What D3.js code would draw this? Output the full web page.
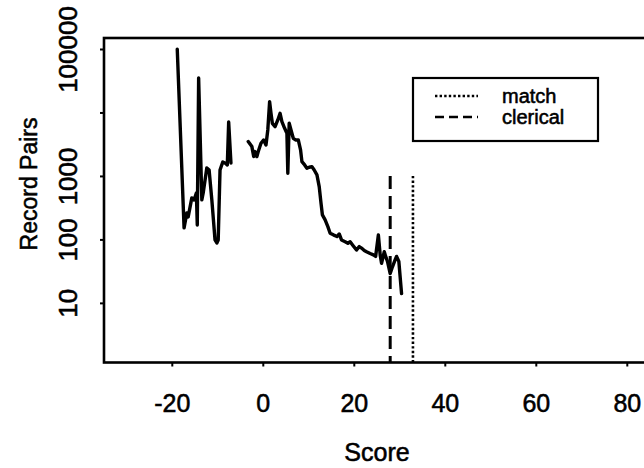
<!DOCTYPE html>
<html>
<head>
<meta charset="utf-8">
<script src="https://cdn.jsdelivr.net/npm/d3@7"></script>
<style>
  body { margin: 0; background: #fff; }
  svg { display: block; }
  text { font-family: "Liberation Sans", Arial, Helvetica, sans-serif; fill: #000; stroke: #000; stroke-width: 0.55px; }
</style>
</head>
<body>
<svg id="chart" width="644" height="468"></svg>
<script>
// Score distribution of record pairs (log counts), two runs of non-empty scores
const lowScores = [-18.8, -17.3, -16.7, -16.4, -15.6, -15.1, -14.6, -14.4, -14.1, -13.4, -13.1,
  -12.3, -11.8, -11.2, -10.5, -10.1, -9.8, -9.4, -8.8, -8.3, -7.8, -7.5, -7.0];
const lowPairs = [99000, 152, 261, 226, 451, 419, 540, 169, 34900, 419, 540,
  1340, 1240, 419, 98, 88, 98, 1240, 1660, 1600, 1490, 7080, 1600];

const mainScores = [-3.2, -2.4, -2.0, -1.7, -1.3, -1.0, -0.4, 0.2, 0.7, 1.1, 1.5, 1.8, 2.1, 2.7,
  3.3, 3.8, 4.2, 4.8, 5.3, 5.5, 5.8, 6.2, 6.7, 7.2, 7.8, 8.3, 8.6, 9.2, 9.7, 10.2, 10.8, 11.3,
  11.9, 12.4, 12.8, 13.1, 13.7, 14.3, 14.8, 15.5, 16.3, 16.8, 17.3, 18.1, 18.7, 19.2, 19.9,
  20.6, 21.2, 21.7, 22.3, 22.8, 23.6, 24.3, 24.8, 25.4, 25.8, 26.1, 26.7, 27.0, 27.4, 28.0,
  28.5, 29.1, 29.4, 29.9, 30.5];
const mainPairs = [3480, 2900, 2020, 2420, 2020, 2420, 3270, 3690, 3080, 5300, 14800, 9700, 6750, 5980,
  7620, 9700, 7180, 5630, 4700, 1100, 6750, 5300, 3920, 3690, 3690, 2570, 1680, 1490, 1320, 1370,
  1400, 1240, 1040, 680, 370, 243, 203, 159, 125, 118, 111, 122, 98, 92, 87, 92, 79,
  68, 77, 73, 67, 64, 60, 57, 54, 118, 57, 42, 64, 54, 45, 29,
  37, 48, 54, 45, 14];

// Cut-off scores
const thresholdNames = ["match", "clerical"];
const thresholdScores = [33, 28];
const thresholdSpan = [1, 1000];

const xTicks = [-20, 0, 20, 40, 60, 80];
const yTicks = [10, 100, 1000, 10000, 100000];
const yTickLabels = ["10", "100", "1000", "", "100000"];

const xTitle = "Score";
const yTitle = "Record Pairs";

// ---- layout ----
const W = 644, H = 468;
const plot = { left: 104, right: 650, top: 38, bottom: 362.5 };
const dashes = { match: "2.4,2.2", clerical: "13,7" };
const legendDashes = { match: "2.4,2.2", clerical: "9,5" };

const svg = d3.select("#chart");
svg.append("rect").attr("width", W).attr("height", H).attr("fill", "#fff").attr("stroke", "none");

const x = d3.scaleLinear().domain([-34.9, 85.1]).range([plot.left, plot.right]);
const y = d3.scaleLog().domain([1.15, 149000]).range([plot.bottom, plot.top]);

svg.append("clipPath").attr("id", "plotClip")
  .append("rect")
  .attr("x", plot.left).attr("y", plot.top)
  .attr("width", plot.right - plot.left).attr("height", plot.bottom - plot.top);

// curve segments
const line = d3.line().x(d => x(d[0])).y(d => y(d[1]));
const segments = [
  d3.zip(lowScores, lowPairs),
  d3.zip(mainScores, mainPairs)
];
svg.append("g").attr("clip-path", "url(#plotClip)")
  .selectAll("path.curve").data(segments).join("path")
  .attr("class", "curve")
  .attr("d", line)
  .attr("fill", "none")
  .attr("stroke", "#000")
  .attr("stroke-width", 3.4)
  .attr("stroke-linejoin", "round")
  .attr("stroke-linecap", "round");

// threshold verticals
svg.append("g").attr("clip-path", "url(#plotClip)")
  .selectAll("line.cut").data(d3.zip(thresholdNames, thresholdScores)).join("line")
  .attr("class", "cut")
  .attr("x1", d => x(d[1])).attr("x2", d => x(d[1]))
  .attr("y1", y(thresholdSpan[1])).attr("y2", y(thresholdSpan[0]))
  .attr("stroke", "#000")
  .attr("stroke-width", d => d[0] === "match" ? 2.6 : 3)
  .attr("stroke-dasharray", d => dashes[d[0]]);

// axes
const xAxis = svg.append("g")
  .attr("transform", `translate(0,${plot.bottom})`)
  .call(d3.axisBottom(x).tickValues(xTicks).tickSize(4).tickPadding(28)
    .tickFormat(d => String(d)));
xAxis.select(".domain").remove();
xAxis.selectAll(".tick line").attr("stroke", "#000").attr("stroke-width", 2);
xAxis.selectAll(".tick text").attr("font-size", 25).attr("font-family", null);

const yAxis = svg.append("g")
  .attr("transform", `translate(${plot.left},0)`)
  .call(d3.axisLeft(y).tickValues(yTicks).tickSize(4).tickFormat(() => ""));
yAxis.select(".domain").remove();
yAxis.selectAll(".tick line").attr("stroke", "#000").attr("stroke-width", 2);
yAxis.selectAll(".tick text").remove();
yAxis.selectAll(".tick").append("text")
  .attr("transform", "translate(-27,0) rotate(-90)")
  .attr("text-anchor", "middle")
  .attr("font-size", 26)
  .text((d, i) => yTickLabels[i]);

// frame
svg.append("rect")
  .attr("x", plot.left).attr("y", plot.top)
  .attr("width", plot.right - plot.left).attr("height", plot.bottom - plot.top)
  .attr("fill", "none").attr("stroke", "#000").attr("stroke-width", 2.6);

// titles
svg.append("text")
  .attr("x", (plot.left + plot.right) / 2).attr("y", 461)
  .attr("text-anchor", "middle").attr("font-size", 25)
  .text(xTitle);
svg.append("text")
  .attr("transform", `translate(37,184) rotate(-90)`)
  .attr("text-anchor", "middle").attr("font-size", 23)
  .text(yTitle);

// legend
const legend = svg.append("g").attr("transform", "translate(413,78)");
legend.append("rect")
  .attr("width", 185).attr("height", 63)
  .attr("fill", "#fff").attr("stroke", "#000").attr("stroke-width", 2.2);
const rows = legend.selectAll("g.row").data(thresholdNames).join("g")
  .attr("class", "row")
  .attr("transform", (d, i) => `translate(0,${18 + i * 21})`);
rows.append("line")
  .attr("x1", 22).attr("x2", 65)
  .attr("stroke", "#000").attr("stroke-width", 2.6)
  .attr("stroke-dasharray", d => legendDashes[d]);
rows.append("text")
  .attr("x", 89).attr("y", 7)
  .attr("font-size", 20)
  .text(d => d);
</script>
</body>
</html>
